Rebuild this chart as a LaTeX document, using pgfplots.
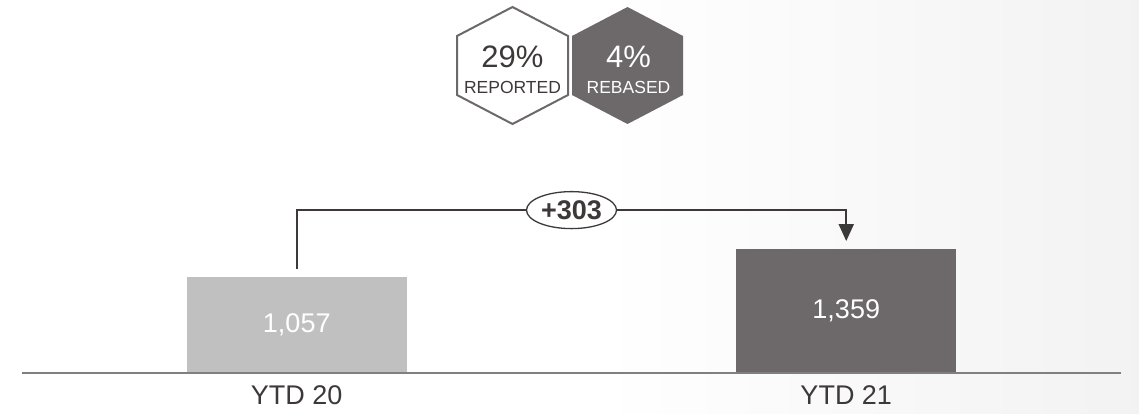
\documentclass[border=0pt]{standalone}
\usepackage{pgfplots}
\pgfplotsset{compat=1.18}
\usepackage{fontspec}
\setmainfont{Liberation Sans}
\usetikzlibrary{arrows.meta}
\definecolor{darkbar}{HTML}{6D6869}
\definecolor{lightbar}{HTML}{C0C0C0}
\definecolor{ink}{HTML}{3D3939}
\definecolor{basegray}{HTML}{808080}
\begin{document}
\begin{tikzpicture}[x=1pt,y=1pt]
\path[use as bounding box] (0,0) rectangle (1139,413);
\fill[white] (0,0) rectangle (600,413);
\shade[left color=white, right color=black!5] (599.5,0) rectangle (1139,413);
% hexagons
\def\hexA{512.5}\def\hexB{627.5}\def\hexY{347.5}
\draw[darkbar, line width=2pt, fill=white]
  (\hexA,\hexY+58.5) -- (\hexA+55.5,\hexY+29.5) -- (\hexA+55.5,\hexY-29.5) -- (\hexA,\hexY-58.5)
  -- (\hexA-55.5,\hexY-29.5) -- (\hexA-55.5,\hexY+29.5) -- cycle;
\fill[darkbar]
  (\hexB,\hexY+58.5) -- (\hexB+55.5,\hexY+29.5) -- (\hexB+55.5,\hexY-29.5) -- (\hexB,\hexY-58.5)
  -- (\hexB-55.5,\hexY-29.5) -- (\hexB-55.5,\hexY+29.5) -- cycle;
\node[ink, font=\fontsize{31}{34}\selectfont, inner sep=0] at (\hexA,356) {29\%};
\node[ink, font=\fontsize{17.5}{20}\selectfont, inner sep=0] at (\hexA,326) {REPORTED};
\node[white, font=\fontsize{31}{34}\selectfont, inner sep=0] at (\hexB+1,356) {4\%};
\node[white, font=\fontsize{17.5}{20}\selectfont, inner sep=0] at (\hexB+1,326) {REBASED};
\begin{axis}[
  at={(22pt,40pt)}, anchor=south west,
  scale only axis, width=1099pt, height=182pt,
  xmin=-0.5, xmax=1.5, ymin=0, ymax=2000,
  axis y line=none,
  axis x line=bottom,
  axis line style={draw=none},
  xtick={0,1}, xticklabels={YTD 20, YTD 21},
  major tick length=0pt,
  xticklabel style={font=\fontsize{27}{30}\selectfont, text=ink, yshift=-9pt},
  ytick=\empty,
  clip=false,
]
\addplot[ybar, bar width=220pt, bar shift=0pt, fill=lightbar, draw=none] coordinates {(0,1057)};
\addplot[ybar, bar width=220pt, bar shift=0pt, fill=darkbar, draw=none] coordinates {(1,1359)};
\draw[draw=basegray, line width=2pt] (axis cs:-0.5,0) -- (axis cs:1.5,0);
\node[white, font=\fontsize{27}{30}\selectfont] at (axis cs:0,528.5) {1,057};
\node[white, font=\fontsize{27}{30}\selectfont] at (axis cs:1,679.5) {1,359};
\draw[ink, line width=2pt, -{Triangle[length=17pt,width=15pt]}]
  (axis cs:0,1142) |- (axis cs:1,1790) -- (axis cs:1,1450);
\draw[ink, line width=1.3pt, fill=white] (axis cs:0.5,1790) ellipse [x radius=45pt, y radius=18.5pt];
\node[ink, font=\bfseries\fontsize{27}{30}\selectfont] at (axis cs:0.5,1790) {+303};
\end{axis}
\end{tikzpicture}
\end{document}
